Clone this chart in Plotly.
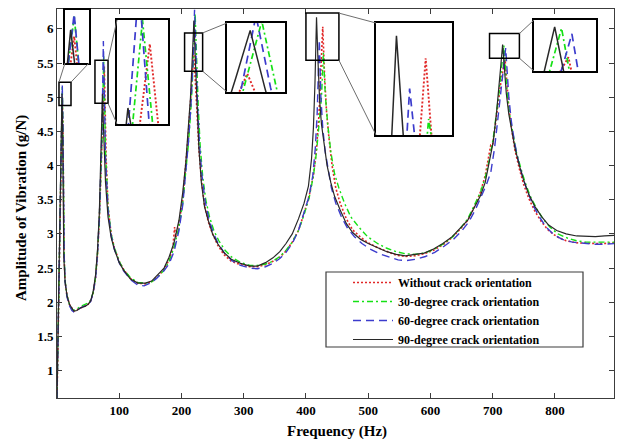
import plotly.graph_objects as go

# ---------------- data ----------------
freq_none = [0, 3, 5, 7, 8.5, 9.5, 10.5, 11.5, 13, 16, 20, 24, 27, 32, 38, 45, 50, 54, 58, 62, 65, 68, 70.5, 72.5, 74.5, 76, 77.5, 79, 82, 87, 92, 100, 107, 118, 130, 142, 152, 162, 172, 180, 186, 189, 191, 196, 202, 207, 211, 215, 219.5, 222.5, 225, 228, 232, 237, 243, 250, 258, 268, 280, 295, 310, 322, 335, 347, 358, 368, 378, 388, 397, 405, 412, 417, 421, 424, 427, 430, 433, 437, 442, 448, 455, 465, 475, 488, 500, 515, 530, 545, 560, 575, 590, 605, 620, 635, 648, 660, 670, 680, 688, 693, 697, 700, 704, 709, 713, 717, 720, 723, 726, 731, 736, 743, 750, 758, 768, 779, 790, 803, 818, 835, 850, 865, 880, 898]
amp_none = [0.6, 2.1, 3.3, 4.4, 5.0, 4.5, 3.5, 2.65, 2.3, 2.1, 1.97, 1.9, 1.87, 1.89, 1.92, 1.95, 1.97, 2.02, 2.13, 2.36, 2.68, 3.2, 3.8, 4.3, 4.9, 5.45, 4.8, 4.1, 3.4, 3.0, 2.8, 2.6, 2.48, 2.35, 2.28, 2.27, 2.3, 2.38, 2.48, 2.62, 2.78, 3.1, 2.95, 3.15, 3.5, 4.0, 4.45, 5.0, 5.65, 5.2, 4.75, 4.25, 3.8, 3.42, 3.18, 3.0, 2.84, 2.7, 2.6, 2.55, 2.52, 2.52, 2.55, 2.6, 2.66, 2.75, 2.88, 3.05, 3.3, 3.55, 3.85, 4.25, 4.75, 5.3, 6.03, 5.3, 4.8, 4.4, 4.0, 3.67, 3.45, 3.22, 3.06, 2.95, 2.87, 2.8, 2.74, 2.69, 2.67, 2.68, 2.71, 2.76, 2.84, 2.95, 3.07, 3.2, 3.38, 3.6, 3.85, 4.1, 4.3, 4.3, 4.6, 4.95, 5.2, 5.42, 5.55, 5.2, 4.85, 4.5, 4.22, 3.95, 3.72, 3.52, 3.33, 3.17, 3.05, 2.96, 2.9, 2.87, 2.86, 2.86, 2.86, 2.87]

freq_30 = [0, 3, 5, 7, 8.5, 9.5, 10.5, 11.5, 13, 16, 20, 24, 27, 32, 38, 45, 50, 54, 58, 62, 65, 68, 70.5, 72.5, 75, 76.5, 78, 82, 87, 92, 100, 107, 118, 130, 142, 152, 162, 172, 180, 188, 196, 202, 207, 211, 215, 218.5, 222, 224.5, 227, 230, 234, 239, 245, 252, 260, 270, 282, 296, 310, 322, 335, 347, 358, 368, 378, 388, 397, 405, 412, 417, 421, 425, 428, 431, 435, 440, 446, 453, 462, 472, 485, 499, 515, 530, 545, 560, 575, 590, 605, 620, 635, 648, 660, 670, 680, 688, 695, 701, 706, 710, 714, 718, 721, 724, 728, 733, 738, 745, 752, 760, 770, 781, 792, 805, 820, 835, 850, 865, 880, 898]
amp_30 = [0.6, 2.1, 3.3, 4.5, 5.15, 4.6, 3.55, 2.7, 2.32, 2.1, 1.97, 1.9, 1.88, 1.9, 1.94, 1.97, 1.99, 2.03, 2.14, 2.37, 2.7, 3.22, 3.85, 4.4, 5.6, 4.9, 4.2, 3.4, 3.0, 2.8, 2.6, 2.48, 2.36, 2.29, 2.28, 2.3, 2.37, 2.47, 2.6, 2.8, 3.1, 3.45, 3.9, 4.3, 4.8, 5.4, 6.22, 5.5, 4.85, 4.3, 3.85, 3.5, 3.25, 3.05, 2.9, 2.76, 2.65, 2.58, 2.54, 2.54, 2.56, 2.6, 2.67, 2.76, 2.88, 3.05, 3.28, 3.52, 3.85, 4.2, 4.55, 5.0, 5.65, 5.05, 4.6, 4.2, 3.88, 3.67, 3.45, 3.25, 3.1, 2.96, 2.86, 2.79, 2.74, 2.71, 2.7, 2.72, 2.77, 2.85, 2.95, 3.08, 3.22, 3.4, 3.6, 3.82, 4.1, 4.4, 4.75, 5.05, 5.4, 5.76, 5.35, 5.0, 4.7, 4.45, 4.2, 3.97, 3.76, 3.56, 3.38, 3.22, 3.1, 3.0, 2.94, 2.9, 2.88, 2.88, 2.88, 2.88]

freq_60 = [0, 3, 5, 7, 8.5, 9.5, 10.5, 11.5, 13, 16, 20, 24, 27, 32, 38, 45, 50, 54, 58, 62, 65, 68, 70.5, 72.5, 74.5, 76, 78, 82, 87, 92, 100, 107, 118, 130, 140, 150, 160, 170, 180, 188, 196, 202, 207, 211, 215, 218.5, 221, 223.5, 226, 229, 233, 238, 244, 251, 259, 269, 281, 295, 310, 322, 335, 347, 358, 368, 378, 388, 397, 405, 411, 415, 418, 421.5, 424, 427, 431, 436, 441, 448, 457, 467, 478, 490, 503, 518, 533, 548, 562, 577, 592, 607, 622, 637, 650, 662, 672, 682, 690, 697, 703, 708, 712, 716, 718.5, 721, 723.5, 726, 730, 735, 741, 748, 756, 765, 775, 786, 798, 812, 828, 845, 862, 880, 898]
amp_60 = [0.6, 2.15, 3.35, 4.5, 5.17, 4.6, 3.55, 2.7, 2.3, 2.08, 1.95, 1.88, 1.86, 1.88, 1.92, 1.95, 1.97, 2.01, 2.13, 2.36, 2.7, 3.22, 3.9, 4.6, 5.82, 4.9, 4.1, 3.35, 2.98, 2.78, 2.58, 2.46, 2.33, 2.25, 2.24, 2.28, 2.35, 2.44, 2.56, 2.74, 3.05, 3.42, 3.88, 4.32, 4.85, 5.5, 6.28, 5.5, 4.85, 4.3, 3.85, 3.48, 3.22, 3.02, 2.86, 2.72, 2.61, 2.54, 2.5, 2.49, 2.52, 2.57, 2.64, 2.73, 2.86, 3.05, 3.3, 3.55, 3.85, 4.25, 4.75, 5.84, 5.0, 4.55, 4.2, 3.9, 3.67, 3.45, 3.25, 3.08, 2.96, 2.86, 2.78, 2.71, 2.66, 2.62, 2.61, 2.63, 2.67, 2.73, 2.82, 2.92, 3.04, 3.18, 3.35, 3.55, 3.72, 3.9, 4.25, 4.65, 5.0, 5.3, 5.5, 5.72, 5.35, 5.0, 4.65, 4.35, 4.08, 3.84, 3.62, 3.42, 3.25, 3.1, 2.99, 2.92, 2.88, 2.86, 2.85, 2.85, 2.86]

freq_90 = [0, 3, 5, 7, 8, 9, 10, 11, 13, 16, 20, 24, 27, 32, 38, 45, 50, 54, 58, 62, 65, 68, 70, 71.5, 73, 74.5, 76, 78, 82, 87, 92, 100, 107, 118, 130, 142, 152, 162, 172, 180, 188, 196, 202, 207, 211, 214.5, 217.5, 220, 222.5, 225, 228, 232, 237, 243, 250, 258, 268, 280, 295, 310, 322, 335, 347, 358, 368, 378, 388, 397, 404, 409, 412, 414.5, 417, 419.5, 422, 425, 429, 434, 440, 446, 455, 465, 475, 488, 500, 515, 530, 545, 560, 575, 590, 605, 620, 635, 648, 660, 670, 680, 688, 695, 701, 706, 710, 713, 716, 719, 722, 726, 731, 736, 743, 750, 758, 768, 779, 790, 803, 818, 835, 850, 865, 880, 898]
amp_90 = [0.6, 2.2, 3.4, 4.5, 5.05, 4.6, 3.6, 2.65, 2.3, 2.1, 1.97, 1.9, 1.87, 1.88, 1.92, 1.94, 1.97, 2.02, 2.15, 2.4, 2.75, 3.3, 3.9, 4.4, 5.05, 4.6, 4.1, 3.75, 3.25, 2.95, 2.78, 2.58, 2.47, 2.34, 2.28, 2.28, 2.31, 2.4, 2.5, 2.66, 2.87, 3.2, 3.6, 4.05, 4.5, 5.0, 5.6, 6.12, 5.5, 4.8, 4.25, 3.75, 3.4, 3.2, 3.0, 2.86, 2.73, 2.63, 2.57, 2.53, 2.53, 2.58, 2.65, 2.74, 2.86, 3.0, 3.22, 3.45, 3.7, 4.1, 4.55, 5.2, 6.17, 5.5, 4.95, 4.6, 4.3, 4.0, 3.75, 3.55, 3.35, 3.15, 3.02, 2.92, 2.86, 2.8, 2.74, 2.7, 2.68, 2.7, 2.72, 2.78, 2.86, 2.96, 3.08, 3.2, 3.38, 3.55, 3.75, 4.05, 4.35, 4.75, 5.1, 5.45, 5.77, 5.4, 5.05, 4.75, 4.5, 4.25, 4.0, 3.78, 3.58, 3.4, 3.25, 3.13, 3.05, 3.0, 2.97, 2.96, 2.96, 2.97, 2.98]

series_names = ["Without crack orientation", "30-degree crack orientation",
                "60-degree crack orientation", "90-degree crack orientation"]
x_ticks = [100, 200, 300, 400, 500, 600, 700, 800]

# ---------------- styling ----------------
FONT = "Liberation Serif, Times New Roman, serif"
styles = [
    dict(color="rgb(225,40,40)", dash="2px,2px", width=1.6),
    dict(color="rgb(20,225,20)", dash="6px,3px,2px,3px", width=1.4),
    dict(color="rgb(60,60,205)", dash="8px,5px", width=1.4),
    dict(color="rgb(40,40,40)", dash="solid", width=1.2),
]
data = [(freq_none, amp_none), (freq_30, amp_30), (freq_60, amp_60), (freq_90, amp_90)]

X_RANGE = [0, 895]
Y_RANGE = [0.6, 6.29]
L, R, T, B = 57, 614, 9, 398  # plot area in px
W, H = 617, 440


def px_to_paper(px, py):
    return (px - L) / (R - L), (B - py) / (B - T)


def data_to_paper(fx, fy):
    return ((fx - X_RANGE[0]) / (X_RANGE[1] - X_RANGE[0]),
            (fy - Y_RANGE[0]) / (Y_RANGE[1] - Y_RANGE[0]))


fig = go.Figure()
for name, (f, a), st in zip(series_names, data, styles):
    fig.add_trace(go.Scatter(x=f, y=a, mode="lines", name=name, line=st,
                             xaxis="x", yaxis="y"))

# insets: zoom ranges, inset pixel box, main-plot box (data coords), connectors
insets = [
    dict(xr=[7.2, 10.6], yr=[4.8, 5.2], px=(65, 89, 10, 63), box=(3.2, 22.5, 4.88, 5.22),
         conn=[("tl", "bl"), ("tr", "br")]),
    dict(xr=[71.5, 78.5], yr=[4.95, 5.6], px=(117, 168, 20, 124), box=(61, 82, 4.91, 5.54),
         conn=[("tr", "tl"), ("br", "bl")]),
    dict(xr=[216, 226], yr=[5.45, 6.2], px=(227, 285, 23, 92), box=(205, 234, 5.38, 5.94),
         conn=[("tr", "tl"), ("br", "bl")]),
    dict(xr=[410, 436], yr=[5.55, 6.25], px=(376, 452, 23, 135), box=(400, 453, 5.54, 6.23),
         conn=[("tr", "tl"), ("br", "bl")]),
    dict(xr=[710, 728], yr=[5.45, 5.82], px=(534, 596, 20, 71), box=(695, 743, 5.57, 5.93),
         conn=[("tr", "tl"), ("br", "bl")]),
]

shapes = []
layout_axes = {}
for i, ins in enumerate(insets):
    k = i + 2
    x0p, y1p = px_to_paper(ins["px"][0], ins["px"][2])
    x1p, y0p = px_to_paper(ins["px"][1], ins["px"][3])
    layout_axes[f"xaxis{k}"] = dict(domain=[x0p, x1p], range=ins["xr"], anchor=f"y{k}",
                                    showticklabels=False, ticks="", showgrid=False,
                                    zeroline=False, showline=True, mirror=True,
                                    linecolor="black", linewidth=1.5, fixedrange=True)
    layout_axes[f"yaxis{k}"] = dict(domain=[y0p, y1p], range=ins["yr"], anchor=f"x{k}",
                                    showticklabels=False, ticks="", showgrid=False,
                                    zeroline=False, showline=True, mirror=True,
                                    linecolor="black", linewidth=1.5, fixedrange=True)
    for name, (f, a), st in zip(series_names, data, styles):
        st2 = dict(st)
        st2["width"] = st["width"] + 0.3
        fig.add_trace(go.Scatter(x=f, y=a, mode="lines", name=name, line=st2,
                                 showlegend=False, xaxis=f"x{k}", yaxis=f"y{k}",
                                 hoverinfo="skip"))
    bx0, bx1, by0, by1 = ins["box"]
    shapes.append(dict(type="rect", xref="x", yref="y", x0=bx0, x1=bx1, y0=by0, y1=by1,
                       line=dict(color="black", width=1.5), fillcolor="rgba(0,0,0,0)"))
    # connector lines
    bp0 = data_to_paper(bx0, by0)
    bp1 = data_to_paper(bx1, by1)
    box_c = {"bl": (bp0[0], bp0[1]), "br": (bp1[0], bp0[1]),
             "tl": (bp0[0], bp1[1]), "tr": (bp1[0], bp1[1])}
    ins_c = {"bl": (x0p, y0p), "br": (x1p, y0p), "tl": (x0p, y1p), "tr": (x1p, y1p)}
    for a_, b_ in ins["conn"]:
        shapes.append(dict(type="line", xref="paper", yref="paper",
                           x0=box_c[a_][0], y0=box_c[a_][1], x1=ins_c[b_][0], y1=ins_c[b_][1],
                           line=dict(color="rgb(110,110,110)", width=1)))

# legend frame
lx0, ly1 = px_to_paper(326, 272)
lx1, ly0 = px_to_paper(583, 347)
shapes.append(dict(type="rect", xref="paper", yref="paper", x0=lx0, x1=lx1, y0=ly0, y1=ly1,
                   line=dict(color="rgb(60,60,60)", width=1.2), fillcolor="rgba(0,0,0,0)"))
leg_x, leg_y = px_to_paper(348, 268)

tickfont = dict(family=FONT, size=13, color="black", weight="bold")
axis_common = dict(showgrid=False, zeroline=False, showline=True, mirror="ticks",
                   linecolor="rgb(60,60,60)", linewidth=1, ticks="inside", ticklen=5,
                   tickcolor="rgb(60,60,60)", tickfont=tickfont)

tx, ty = px_to_paper(337, 431)
yx, yy = px_to_paper(21, 208)

fig.update_layout(
    width=W, height=H,
    margin=dict(l=L, r=W - R, t=T, b=H - B),
    paper_bgcolor="white", plot_bgcolor="white",
    showlegend=True,
    legend=dict(x=leg_x, y=leg_y, xanchor="left", yanchor="top",
                bgcolor="rgba(0,0,0,0)", borderwidth=0,
                font=dict(family=FONT, size=12, color="black", weight="bold"),
                itemwidth=40),
    xaxis=dict(range=X_RANGE, tickvals=x_ticks, domain=[0, 1], anchor="y", **axis_common),
    yaxis=dict(range=Y_RANGE, tick0=0, dtick=0.5, domain=[0, 1], anchor="x", **axis_common),
    shapes=shapes,
    annotations=[
        dict(text="Frequency (Hz)", xref="paper", yref="paper", x=tx, y=ty,
             showarrow=False, xanchor="center", yanchor="middle",
             font=dict(family=FONT, size=15, color="black", weight="bold")),
        dict(text="Amplitude of Vibration (g/N)", xref="paper", yref="paper", x=yx, y=yy,
             showarrow=False, xanchor="center", yanchor="middle", textangle=-90,
             font=dict(family=FONT, size=15, color="black", weight="bold")),
    ],
    **layout_axes,
)

fig.write_html("out.html")
